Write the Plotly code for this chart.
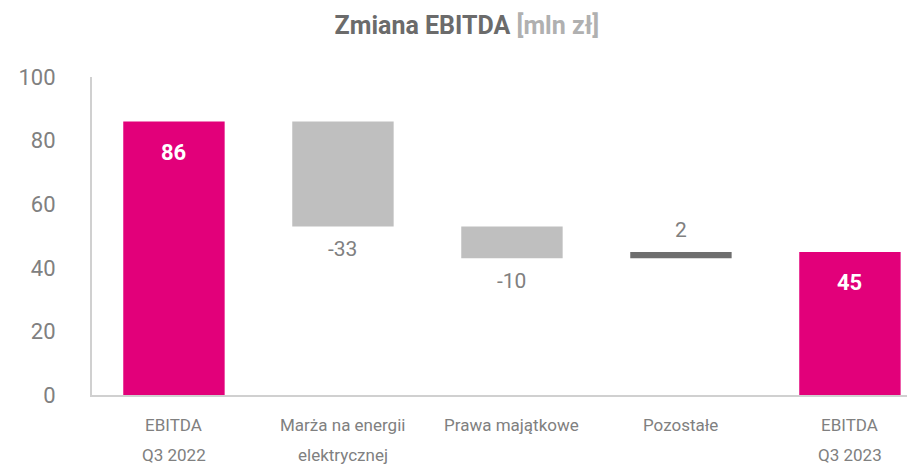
import plotly.graph_objects as go

categories = ["EBITDA Q3 2022", "Marża na energii elektrycznej",
              "Prawa majątkowe", "Pozostałe", "EBITDA Q3 2023"]
cat_line1 = ["EBITDA", "Marża na energii", "Prawa majątkowe", "Pozostałe", "EBITDA"]
cat_line2 = ["Q3 2022", "elektrycznej", "", "", "Q3 2023"]
values = [86, -33, -10, 2, 45]
measures = ["absolute", "relative", "relative", "relative", "total"]
labels = ["86", "-33", "-10", "2", "45"]
y_ticks = [0, 20, 40, 60, 80, 100]

PINK = "#E2007A"
LIGHT = "#BFBFBF"
DARK = "#6E6E6E"
GREY_TXT = "#808080"
FONT = "Roboto"

fig = go.Figure(go.Waterfall(
    x=categories,
    y=values,
    measure=measures,
    increasing=dict(marker=dict(color=DARK)),
    decreasing=dict(marker=dict(color=LIGHT)),
    totals=dict(marker=dict(color=PINK)),
    connector=dict(visible=False),
    width=0.6,
    hoverinfo="skip",
))

# value labels, positioned at each bar's end via the data axis
annotations = []
running = 0
for cat, v, m, lab in zip(categories, values, measures, labels):
    if m == "absolute":
        start, end = 0, v
        running = v
    elif m == "total":
        start, end = 0, running
    else:
        start, end = running, running + v
        running += v
    if m in ("absolute", "total"):
        annotations.append(dict(x=cat, y=end, xref="x", yref="y", text=f"<b>{lab}</b>",
                                showarrow=False, yanchor="middle", yshift=-31,
                                font=dict(family=FONT, size=22, color="white")))
    else:
        shift = 22 if v > 0 else -23
        annotations.append(dict(x=cat, y=end, xref="x", yref="y", text=lab,
                                showarrow=False, yanchor="middle", yshift=shift,
                                font=dict(family=FONT, size=21, color=GREY_TXT)))

for cat, l1, l2 in zip(categories, cat_line1, cat_line2):
    annotations.append(dict(x=cat, y=0, xref="x", yref="paper", text=l1, showarrow=False,
                            yanchor="middle", yshift=-30,
                            font=dict(family=FONT, size=17, color=GREY_TXT)))
    if l2:
        annotations.append(dict(x=cat, y=0, xref="x", yref="paper", text=l2, showarrow=False,
                                yanchor="middle", yshift=-60,
                                font=dict(family=FONT, size=17, color=GREY_TXT)))

fig.update_layout(
    width=907, height=456,
    margin=dict(l=84, r=0, t=69, b=69),
    paper_bgcolor="white", plot_bgcolor="white",
    showlegend=False,
    font=dict(family=FONT, color=GREY_TXT),
    title=dict(
        text="<b><span style='color:#6B6B6B'>Zmiana EBITDA</span> <span style='color:#B0B0B0'>[mln zł]</span></b>",
        x=0.506, xanchor="center", y=0.963, yanchor="middle",
        font=dict(family=FONT, size=25),
    ),
    annotations=annotations,
    xaxis=dict(
        range=[-0.485, 4.385], showgrid=False, zeroline=False,
        showline=True, linecolor="#D0D0D0", linewidth=2,
        ticks="", showticklabels=False,
    ),
    yaxis=dict(
        range=[0, 100], tickvals=y_ticks,
        showgrid=False, zeroline=False,
        showline=True, linecolor="#D0D0D0", linewidth=2,
        ticks="", tickfont=dict(family=FONT, size=22, color=GREY_TXT),
        ticklabelstandoff=30,
    ),
)

fig.write_html("out.html")
